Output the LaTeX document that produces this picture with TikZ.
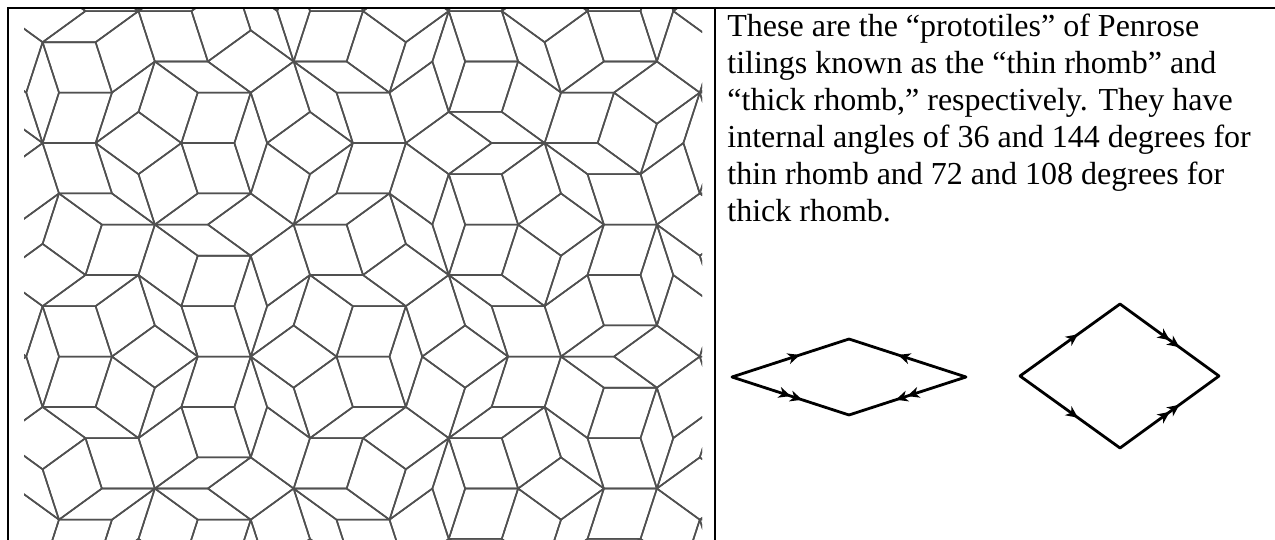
\documentclass[tikz,border=0pt]{standalone}
\usepackage{fontspec}
\setmainfont{Liberation Serif}
\usetikzlibrary{arrows.meta, decorations.markings}
\definecolor{tilegray}{RGB}{80,80,80}

% offsets of the five families of the pentagrid (they add up to 1)
\def\gam{{0.13,0.37,0.05,0.29,0.16}}
% \kj: strip index of family #1 at the grid point (\px,\py)
\newcommand\stripK[1]{%
  \ifnum#1=\famA\relax \edef\kj{\kA}\else\ifnum#1=\famB\relax \edef\kj{\kB}\else
    \pgfmathtruncatemacro\kj{ceil(\px*cos(72*#1)+\py*sin(72*#1)+\gam[#1])}\fi\fi}

\begin{document}
\begin{tikzpicture}[x=0.5pt, y=-0.5pt,
  frame/.style={line width=1.3pt},
  t/.style={draw=tilegray, line width=0.8pt, line join=round},
  r/.style={line width=1.4pt, line cap=round},
  one/.style={postaction={decorate, decoration={markings,
      mark=at position 0.58 with {\arrow{Stealth[length=6pt, width=5.5pt, inset=1.8pt]}}}}},
  two/.style={postaction={decorate, decoration={markings,
      mark=at position 0.6 with {\arrow{Stealth[length=6pt, width=5.5pt, inset=1.8pt]Stealth[length=6pt, width=5.5pt, inset=1.8pt]}}}}},
  txt/.style={inner sep=0pt, align=left, font=\fontsize{16}{18.5}\selectfont}]
  \useasboundingbox (0,0) rectangle (1275,540);
  % ---- table rules
  \draw[frame] (8,540) -- (8,8) -- (1275,8);
  \draw[frame] (715,8) -- (715,540);
  % ---- left cell: rhomb tiling from the pentagrid, one rhomb per grid crossing
  \begin{scope}
    \clip (24,10) rectangle (702,540);
    \begin{scope}[shift={(363,275)}, x=26.5pt, y=26.5pt]
      \foreach \famA in {0,...,3} {
        \pgfmathtruncatemacro\famN{\famA+1}
        \foreach \famB in {\famN,...,4} {
          \foreach \kA in {-5,...,5} {
            \foreach \kB in {-5,...,5} {
              \pgfmathsetmacro\uA{\kA-\gam[\famA]}
              \pgfmathsetmacro\uB{\kB-\gam[\famB]}
              \pgfmathsetmacro\dt{sin(72*(\famB-\famA))}
              \pgfmathsetmacro\px{(\uA*sin(72*\famB)-\uB*sin(72*\famA))/\dt}
              \pgfmathsetmacro\py{(cos(72*\famA)*\uB-cos(72*\famB)*\uA)/\dt}
              \pgfmathtruncatemacro\inside{and(abs(\px)<3.4, abs(\py)<2.9)}
              \ifnum\inside=1
                \stripK{0}\let\Ka\kj \stripK{1}\let\Kb\kj \stripK{2}\let\Kc\kj
                \stripK{3}\let\Kd\kj \stripK{4}\let\Ke\kj
                \pgfmathsetmacro\bx{\Ka+\Kb*cos(72)+\Kc*cos(144)+\Kd*cos(216)+\Ke*cos(288)}
                \pgfmathsetmacro\by{\Kb*sin(72)+\Kc*sin(144)+\Kd*sin(216)+\Ke*sin(288)}
                \draw[t] (\bx,\by) -- ++(72*\famA:1) -- ++(72*\famB:1)
                  -- ++(72*\famA+180:1) -- cycle;
              \fi
            }
          }
        }
      }
    \end{scope}
  \end{scope}
  % ---- right cell: the text
  \node[txt, anchor=north west] (note) at (727,14)
    {These are the “prototiles” of Penrose\\
     tilings known as the “thin rhomb” and\\
     “thick rhomb,” respectively. They have\\
     internal angles of 36 and 144 degrees for\\
     thin rhomb and 72 and 108 degrees for\\
     thick rhomb.};
  % ---- thin rhomb (36 and 144 degrees)
  \coordinate (thinL) at (732,377);
  \coordinate (thinT) at (849,339);
  \coordinate (thinR) at (966,377);
  \coordinate (thinB) at (849,415);
  \draw[r, one] (thinL) -- (thinT);
  \draw[r, one] (thinR) -- (thinT);
  \draw[r, two] (thinL) -- (thinB);
  \draw[r, two] (thinR) -- (thinB);
  % ---- thick rhomb (72 and 108 degrees)
  \coordinate (thickL) at (1020,376);
  \coordinate (thickT) at (1120,304);
  \coordinate (thickR) at (1219,376);
  \coordinate (thickB) at (1120,448);
  \draw[r, one] (thickL) -- (thickT);
  \draw[r, one] (thickL) -- (thickB);
  \draw[r, two] (thickT) -- (thickR);
  \draw[r, two] (thickB) -- (thickR);
\end{tikzpicture}
\end{document}
